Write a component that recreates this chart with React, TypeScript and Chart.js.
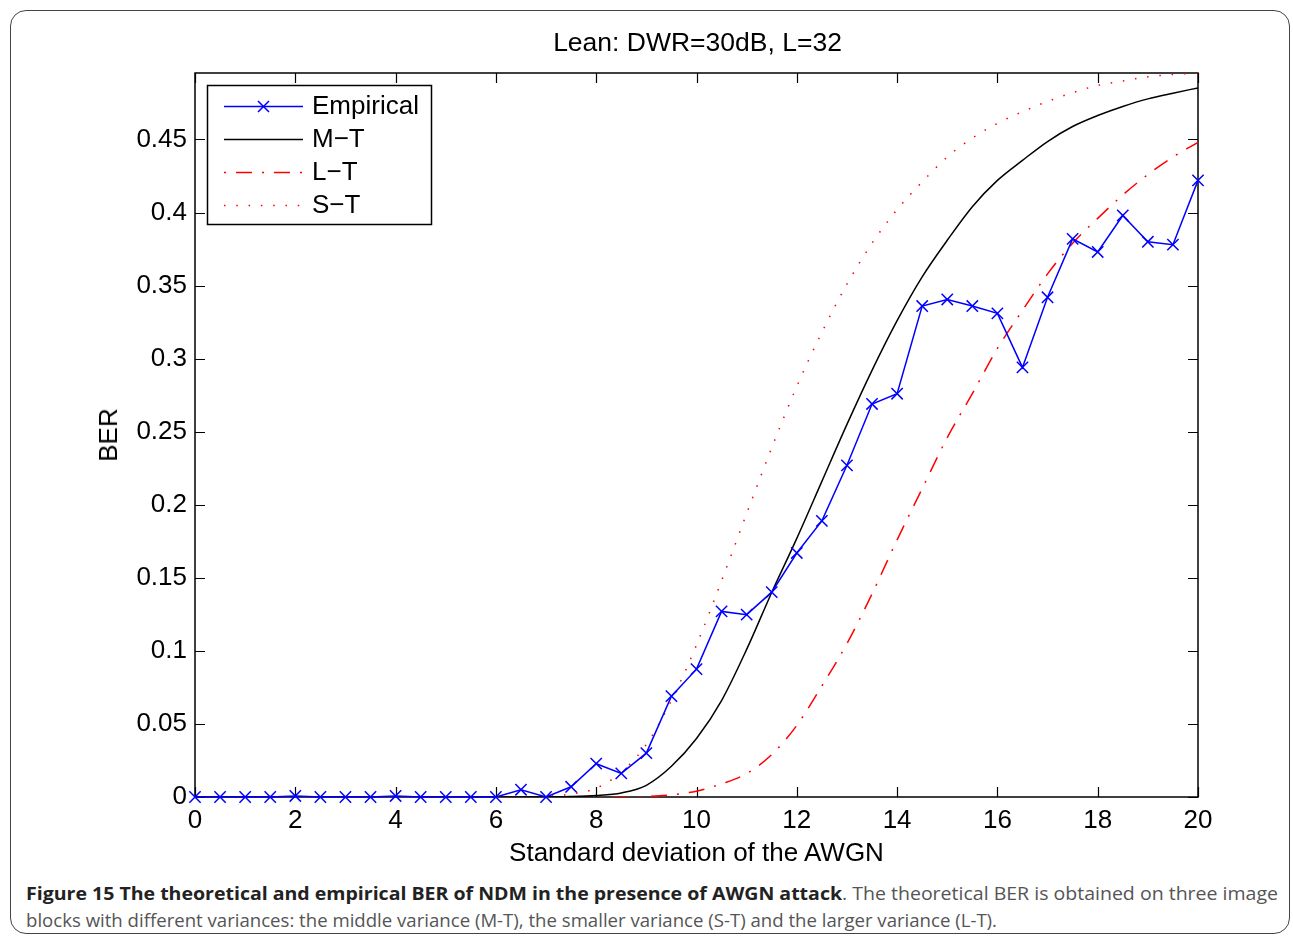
import React, { useEffect, useLayoutEffect, useRef } from "react";
import { Chart, registerables } from "chart.js";

Chart.register(...registerables);

// ---------- data ----------
const sigma = [
  0, 0.5, 1, 1.5, 2, 2.5, 3, 3.5, 4, 4.5, 5, 5.5, 6, 6.5, 7, 7.5, 8, 8.5, 9, 9.5, 10,
  10.5, 11, 11.5, 12, 12.5, 13, 13.5, 14, 14.5, 15, 15.5, 16, 16.5, 17, 17.5, 18, 18.5, 19, 19.5, 20,
];
const empirical = [
  0, 0, 0, 0, 0.0007, 0, 0, 0, 0.0007, 0, 0, 0, 0, 0.005, 0, 0.007, 0.0228, 0.0162, 0.03, 0.069, 0.0875,
  0.127, 0.1248, 0.1402, 0.167, 0.189, 0.227, 0.269, 0.276, 0.336, 0.3405, 0.336, 0.331, 0.294, 0.342, 0.382, 0.373, 0.398, 0.38, 0.378, 0.422,
];
const middleT = [
  0, 0, 0, 0, 0, 0, 0, 0, 0, 0, 0, 0, 0, 0, 0.0001, 0.0003, 0.001, 0.0028, 0.008, 0.021, 0.04,
  0.066, 0.101, 0.14, 0.177, 0.216, 0.255, 0.292, 0.326, 0.356, 0.381, 0.404, 0.422, 0.4357, 0.4486, 0.4589, 0.4664, 0.4726, 0.4778, 0.4817, 0.4853,
];
const largeT = [
  0, 0, 0, 0, 0, 0, 0, 0, 0, 0, 0, 0, 0, 0, 0, 0, 0, 0, 0.0003, 0.0015, 0.004,
  0.009, 0.016, 0.029, 0.049, 0.076, 0.105, 0.139, 0.176, 0.211, 0.246, 0.276, 0.307, 0.333, 0.358, 0.379, 0.396, 0.412, 0.426, 0.438, 0.448,
];
const smallT = [
  0, 0, 0, 0, 0, 0, 0, 0, 0, 0, 0, 0, 0, 0, 0.0005, 0.002, 0.006, 0.017, 0.036, 0.066, 0.104,
  0.148, 0.194, 0.239, 0.281, 0.318, 0.351, 0.379, 0.402, 0.421, 0.438, 0.451, 0.461, 0.469, 0.476, 0.482, 0.487, 0.49, 0.4929, 0.4945, 0.4955,
];
const xTickValues = [0, 2, 4, 6, 8, 10, 12, 14, 16, 18, 20];
const yTickValues = [0, 0.05, 0.1, 0.15, 0.2, 0.25, 0.3, 0.35, 0.4, 0.45];
const seriesNames = ["Empirical", "M\u2212T", "L\u2212T", "S\u2212T"];

const X_MIN = 0;
const X_MAX = 20;
const Y_MIN = 0;
const Y_MAX = 0.4955;

const FONT = '"Liberation Sans", Arial, Helvetica, sans-serif';
const CANVAS_W = 1293;
const CANVAS_H = 870;
const AREA = { left: 195, right: 1198, top: 73, bottom: 797 };
const PAD_LEFT = 90;
const PAD_BOTTOM = 20;

const BLUE = "#0000ff";
const RED = "#ff0000";
const LT_DASH = [16, 10, 2, 10];
const ST_DASH = [1.5, 10.8];

const toPoints = (ys: number[]) => sigma.map((x, i) => ({ x, y: ys[i] }));

// ---------- plugins ----------
const boxPlugin = {
  id: "matlabBox",
  beforeDatasetsDraw(chart: any) {
    const { ctx, chartArea: a, scales } = chart;
    ctx.save();
    ctx.strokeStyle = "#000";
    ctx.lineWidth = 1.5;
    ctx.strokeRect(a.left, a.top, a.right - a.left, a.bottom - a.top);
    ctx.lineWidth = 1.2;
    const tl = 10;
    ctx.beginPath();
    for (const v of xTickValues) {
      const px = Math.round(scales.x.getPixelForValue(v)) + 0.5;
      ctx.moveTo(px, a.bottom);
      ctx.lineTo(px, a.bottom - tl);
      ctx.moveTo(px, a.top);
      ctx.lineTo(px, a.top + tl);
    }
    for (const v of yTickValues) {
      const py = Math.round(scales.y.getPixelForValue(v)) + 0.5;
      ctx.moveTo(a.left, py);
      ctx.lineTo(a.left + tl, py);
      ctx.moveTo(a.right, py);
      ctx.lineTo(a.right - tl, py);
    }
    ctx.stroke();
    ctx.restore();
  },
  afterDatasetsDraw(chart: any) {
    const { ctx } = chart;
    ctx.save();
    // legend box
    const bx = 207.5, by = 85.5, bw = 224, bh = 139;
    ctx.fillStyle = "#fff";
    ctx.fillRect(bx, by, bw, bh);
    ctx.strokeStyle = "#000";
    ctx.lineWidth = 1.5;
    ctx.strokeRect(bx, by, bw, bh);
    const rows = [106, 139, 172, 205];
    const x0 = 224, x1 = 303;
    const styles = [
      { color: BLUE, dash: [] as number[], marker: true },
      { color: "#000", dash: [] as number[], marker: false },
      { color: RED, dash: [2, 10, 16, 10], marker: false },
      { color: RED, dash: ST_DASH, marker: false },
    ];
    styles.forEach((s, i) => {
      const y = rows[i] + 0.5;
      ctx.strokeStyle = s.color;
      ctx.lineWidth = 1.5;
      ctx.setLineDash(s.dash);
      ctx.beginPath();
      ctx.moveTo(x0, y);
      ctx.lineTo(x1, y);
      ctx.stroke();
      ctx.setLineDash([]);
      if (s.marker) {
        const cx = (x0 + x1) / 2, r = 5.5;
        ctx.beginPath();
        ctx.moveTo(cx - r, y - r);
        ctx.lineTo(cx + r, y + r);
        ctx.moveTo(cx - r, y + r);
        ctx.lineTo(cx + r, y - r);
        ctx.stroke();
      }
      ctx.fillStyle = "#000";
      ctx.font = `26px ${FONT}`;
      ctx.textBaseline = "middle";
      ctx.textAlign = "left";
      ctx.fillText(seriesNames[i], 312, rows[i] + 1);
    });
    ctx.restore();
  },
};

// ---------- components ----------
function FitLine({ width, top, children }: { width: number; top: number; children: React.ReactNode }) {
  const ref = useRef<HTMLDivElement>(null);
  useLayoutEffect(() => {
    const el = ref.current;
    if (!el) return;
    el.style.transform = "none";
    const w = el.getBoundingClientRect().width;
    if (w > 0) el.style.transform = `scaleX(${width / w})`;
  }, [width]);
  return (
    <div
      ref={ref}
      style={{
        position: "absolute",
        left: 26,
        top,
        whiteSpace: "nowrap",
        transformOrigin: "0 0",
        fontFamily: '"Open Sans", "Noto Sans", sans-serif',
        fontSize: 18,
        lineHeight: "20px",
        color: "#555",
      }}
    >
      {children}
    </div>
  );
}

export default function App() {
  const canvasRef = useRef<HTMLCanvasElement>(null);

  useEffect(() => {
    const canvas = canvasRef.current;
    if (!canvas) return;
    const chart = new Chart(canvas, {
      type: "line",
      data: {
        datasets: [
          {
            label: seriesNames[0],
            data: toPoints(empirical),
            borderColor: BLUE,
            backgroundColor: BLUE,
            borderWidth: 1.5,
            pointStyle: "crossRot",
            pointRadius: 8,
            pointBorderWidth: 1.5,
            pointBorderColor: BLUE,
            tension: 0,
            clip: false as any,
            order: 0,
          },
          {
            label: seriesNames[1],
            data: toPoints(middleT),
            borderColor: "#000",
            borderWidth: 1.5,
            pointRadius: 0,
            cubicInterpolationMode: "monotone",
            order: 1,
          },
          {
            label: seriesNames[2],
            data: toPoints(largeT),
            borderColor: RED,
            borderWidth: 1.5,
            borderDash: LT_DASH,
            pointRadius: 0,
            cubicInterpolationMode: "monotone",
            order: 2,
          },
          {
            label: seriesNames[3],
            data: toPoints(smallT),
            borderColor: RED,
            borderWidth: 1.5,
            borderDash: ST_DASH,
            pointRadius: 0,
            cubicInterpolationMode: "monotone",
            order: 3,
          },
        ],
      },
      options: {
        animation: false,
        responsive: false,
        devicePixelRatio: 1,
        layout: {
          padding: {
            left: PAD_LEFT,
            right: CANVAS_W - AREA.right,
            top: AREA.top,
            bottom: PAD_BOTTOM,
          },
        },
        plugins: {
          legend: { display: false },
          title: { display: false },
          tooltip: { enabled: false },
        },
        scales: {
          x: {
            type: "linear",
            min: X_MIN,
            max: X_MAX,
            grid: { display: false, drawTicks: false },
            border: { display: false },
            afterBuildTicks: (s: any) => {
              s.ticks = xTickValues.map((v) => ({ value: v }));
            },
            afterFit: (s: any) => {
              s.height = CANVAS_H - AREA.bottom - PAD_BOTTOM;
            },
            ticks: {
              padding: 8,
              color: "#000",
              font: { family: FONT, size: 26 },
              maxRotation: 0,
              callback: (v: any) => String(v),
            },
          },
          y: {
            type: "linear",
            min: Y_MIN,
            max: Y_MAX,
            grid: { display: false, drawTicks: false },
            border: { display: false },
            afterBuildTicks: (s: any) => {
              s.ticks = yTickValues.map((v) => ({ value: v }));
            },
            afterFit: (s: any) => {
              s.width = AREA.left - PAD_LEFT;
            },
            ticks: {
              padding: 8,
              color: "#000",
              font: { family: FONT, size: 26 },
              callback: (v: any) => String(v),
            },
          },
        },
      },
      plugins: [boxPlugin],
    } as any);
    return () => chart.destroy();
  }, []);

  const textStyle: React.CSSProperties = {
    position: "absolute",
    fontFamily: FONT,
    fontSize: 26,
    color: "#000",
    whiteSpace: "nowrap",
    lineHeight: "30px",
  };
  const cx = (AREA.left + AREA.right) / 2;

  return (
    <div style={{ position: "absolute", left: 0, top: 0, width: 1293, height: 939, background: "#fff", overflow: "hidden" }}>
      <div
        style={{
          position: "absolute",
          left: 10,
          top: 10,
          width: 1280,
          height: 924,
          border: "1.5px solid #444",
          borderRadius: 16,
          boxSizing: "border-box",
        }}
      />
      <canvas
        ref={canvasRef}
        width={CANVAS_W}
        height={CANVAS_H}
        style={{ position: "absolute", left: 0, top: 0, width: CANVAS_W, height: CANVAS_H }}
      />
      <div style={{ ...textStyle, fontSize: 26.5, left: cx + 1, top: 27, transform: "translateX(-50%)" }}>Lean: DWR=30dB, L=32</div>
      <div style={{ ...textStyle, left: cx, top: 837, transform: "translateX(-50%)" }}>Standard deviation of the AWGN</div>
      <div
        style={{
          ...textStyle,
          left: 108,
          top: (AREA.top + AREA.bottom) / 2,
          transform: "translate(-50%, -50%) rotate(-90deg)",
        }}
      >
        BER
      </div>
      <FitLine width={1252} top={883}>
        <span style={{ fontWeight: 700, color: "#222" }}>
          Figure 15 The theoretical and empirical BER of NDM in the presence of AWGN attack
        </span>
        <span>. The theoretical BER is obtained on three image</span>
      </FitLine>
      <FitLine width={971} top={910}>
        blocks with different variances: the middle variance (M-T), the smaller variance (S-T) and the larger variance (L-T).
      </FitLine>
    </div>
  );
}
